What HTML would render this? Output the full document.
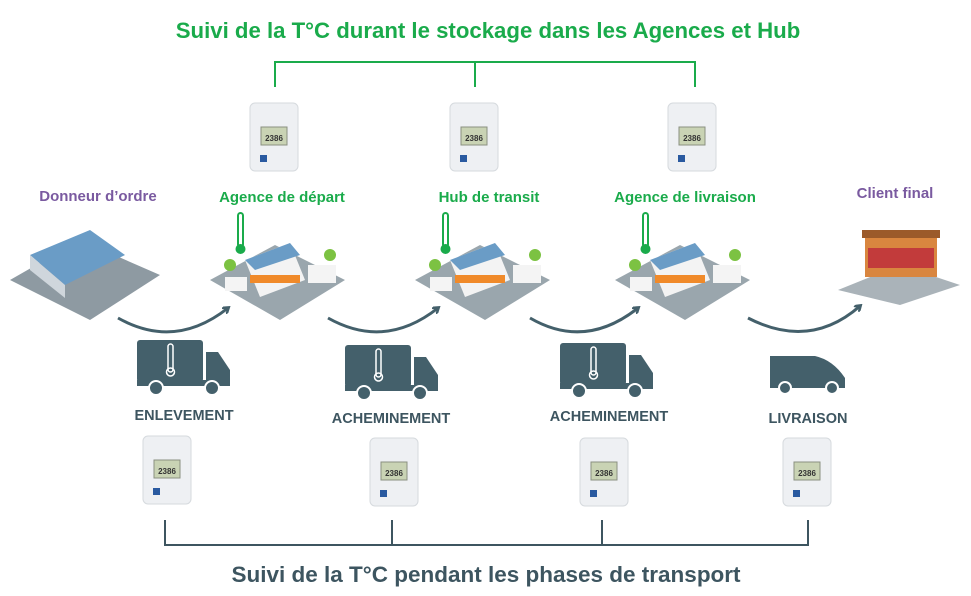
<!DOCTYPE html>
<html><head><meta charset="utf-8"><style>
body{margin:0;background:#fff;}
svg{display:block;font-family:"Liberation Sans",sans-serif;font-weight:bold;}
</style></head><body>
<svg width="971" height="596" viewBox="0 0 971 596" xmlns="http://www.w3.org/2000/svg">
<defs>
<g id="dev">
<rect x="0" y="0" width="48" height="68" rx="5" fill="#eef0f3" stroke="#d6dade"/>
<rect x="11" y="24" width="26" height="18" fill="#c9d3b4" stroke="#8a9080"/>
<text x="24" y="38" font-size="8" text-anchor="middle" fill="#333">2386</text>
<rect x="10" y="52" width="7" height="7" fill="#2a5aa0"/>
</g>
<g id="wh">
<polygon points="0,55 65,20 135,55 70,95" fill="#9aa6ad"/>
<polygon points="35,35 80,18 95,55 50,72" fill="#f3f3f3"/>
<polygon points="35,35 80,18 90,30 45,45" fill="#6a9cc6"/>
<rect x="40" y="50" width="50" height="8" fill="#f08a2a"/>
<rect x="98" y="40" width="28" height="18" fill="#f4f4f4"/>
<rect x="15" y="52" width="22" height="14" fill="#f4f4f4"/>
<circle cx="20" cy="40" r="6" fill="#7cc242"/><circle cx="120" cy="30" r="6" fill="#7cc242"/>
<rect x="28" y="-12" width="5" height="34" rx="2.5" fill="none" stroke="#1aab4b" stroke-width="2"/>
<circle cx="30.5" cy="24" r="5" fill="#1aab4b"/>
</g>
<g id="truck" fill="#44606b">
<rect x="0" y="0" width="66" height="42" rx="3"/>
<path d="M69,12 h12 l12,18 v14 h-24 z"/>
<rect x="0" y="40" width="93" height="6"/>
<circle cx="19" cy="48" r="7" stroke="#fff" stroke-width="2"/><circle cx="75" cy="48" r="7" stroke="#fff" stroke-width="2"/>
<rect x="31" y="4" width="5" height="28" rx="2.5" fill="none" stroke="#fff" stroke-width="1.5"/>
<circle cx="33.5" cy="32" r="4" fill="none" stroke="#fff" stroke-width="1.5"/>
</g>
<marker id="ah" markerWidth="8" markerHeight="8" refX="5" refY="4" orient="auto" markerUnits="userSpaceOnUse"><path d="M0,0 L6,4 L0,8" fill="none" stroke="#44606b" stroke-width="2.5"/></marker>
</defs>
<text x="488" y="38" font-size="22.2" fill="#1aab4b" text-anchor="middle">Suivi de la T°C durant le stockage dans les Agences et Hub</text>
<g stroke="#1aab4b" stroke-width="2" fill="none"><path d="M275,87 V62 H695 V87 M475,62 V87"/></g>
<use href="#dev" x="250" y="103"/><use href="#dev" x="450" y="103"/><use href="#dev" x="668" y="103"/>
<g font-size="15" text-anchor="middle">
<text x="98" y="201" fill="#7a5aa0">Donneur d’ordre</text>
<text x="282" y="202" fill="#1aab4b">Agence de départ</text>
<text x="489" y="202" fill="#1aab4b">Hub de transit</text>
<text x="685" y="202" fill="#1aab4b">Agence de livraison</text>
<text x="895" y="198" fill="#7a5aa0">Client final</text>
</g>
<use href="#wh" x="210" y="225"/><use href="#wh" x="415" y="225"/><use href="#wh" x="615" y="225"/>
<g>
<polygon points="10,280 80,240 160,275 90,320" fill="#8e9aa2"/>
<polygon points="30,255 90,230 125,255 65,285" fill="#6a9cc6"/>
<polygon points="30,255 65,285 65,298 30,270" fill="#cfd6dc"/>
</g>
<g>
<polygon points="838,290 900,265 960,285 900,305" fill="#aab3b9"/>
<rect x="865" y="235" width="72" height="42" fill="#d9863f"/>
<rect x="868" y="248" width="66" height="20" fill="#c23b3b"/>
<rect x="862" y="230" width="78" height="8" fill="#9b5a2a"/>
</g>
<g fill="none" stroke="#44606b" stroke-width="3" marker-end="url(#ah)">
<path d="M118,318 Q175,350 228,308"/>
<path d="M328,318 Q385,350 438,308"/>
<path d="M530,318 Q585,350 638,308"/>
<path d="M748,318 Q810,350 860,306"/>
</g>
<use href="#truck" x="137" y="340"/><use href="#truck" x="345" y="345"/><use href="#truck" x="560" y="343"/>
<g fill="#44606b">
<path d="M770,356 h45 q18,4 30,22 v10 h-75 z"/>
<circle cx="785" cy="388" r="6" stroke="#fff" stroke-width="2"/><circle cx="832" cy="388" r="6" stroke="#fff" stroke-width="2"/>
</g>
<g font-size="14.5" fill="#3d5560" text-anchor="middle">
<text x="184" y="420">ENLEVEMENT</text>
<text x="391" y="423">ACHEMINEMENT</text>
<text x="609" y="421">ACHEMINEMENT</text>
<text x="808" y="423">LIVRAISON</text>
</g>
<use href="#dev" x="143" y="436"/><use href="#dev" x="370" y="438"/><use href="#dev" x="580" y="438"/><use href="#dev" x="783" y="438"/>
<g stroke="#3d5560" stroke-width="2" fill="none"><path d="M165,520 V545 H808 V520 M392,520 V545 M602,520 V545"/></g>
<text x="486" y="582" font-size="22.5" fill="#3d5560" text-anchor="middle">Suivi de la T°C pendant les phases de transport</text>
</svg>
</body></html>
